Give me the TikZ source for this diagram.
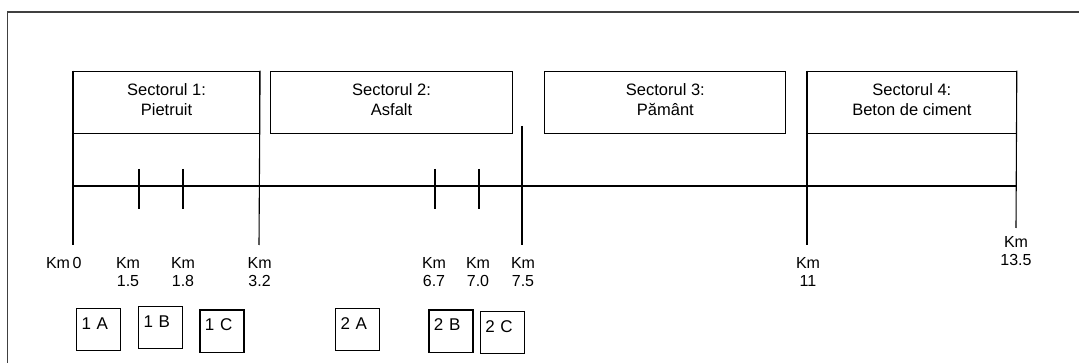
\documentclass[tikz,border=0pt]{standalone}
\usepackage{fontspec}
\setmainfont{Liberation Sans}
\usetikzlibrary{positioning}
\tikzset{
  sector/.style={draw, line width=1.1pt, anchor=north west, minimum height=62.6pt,
    inner sep=0pt, align=center, text depth=6pt, font=\fontsize{16.5}{20}\selectfont},
  kmlabel/.style={anchor=north, inner sep=0pt, align=center, font=\fontsize{16}{18}\selectfont},
  lot/.style={draw, line width=1.1pt, anchor=north west, minimum height=42pt, minimum width=44pt,
    inner xsep=5pt, inner ysep=0pt, text width=34pt, align=left, text height=20.5pt, text depth=21.5pt,
    font=\fontsize{17}{19}\selectfont},
  road/.style={line width=1.1pt},
  frame/.style={line width=1.6pt, black!75}
}
\begin{document}
\begin{tikzpicture}[x=1pt, y=-1pt]
      \useasboundingbox (0,0) rectangle (1079,363);
      \draw[frame] (7.5,363) -- (7.5,12) -- (1079,12);
      % sectoare
      \node[sector, minimum width=186pt] (s1) at (73,70.7) {Sectorul 1:\\Pietruit};
      \node[sector, minimum width=241.4pt] (s2) at (270.3,70.7) {Sectorul 2:\\Asfalt};
      \node[sector, minimum width=241pt] (s3) at (544.3,70.7) {Sectorul 3:\\Pământ};
      \node[sector, minimum width=208.7pt] (s4) at (807,70.7) {Sectorul 4:\\Beton de ciment};
      % axa drumului
      \coordinate (km0) at (73,186);
      \coordinate (km135) at (1016,186);
      \coordinate (e0) at (73,245);
      \coordinate (e32) at (259,245);
      \coordinate (t75) at (522,126);
      \coordinate (e75) at (522,245);
      \coordinate (e11) at (807,245);
      \coordinate (e135) at (1016,228);
      \coordinate (a15) at (139,169);
      \coordinate (b15) at (139,209);
      \coordinate (a18) at (183,169);
      \coordinate (b18) at (183,209);
      \coordinate (a67) at (435,169);
      \coordinate (b67) at (435,209);
      \coordinate (a70) at (479,169);
      \coordinate (b70) at (479,209);
      \begin{scope}[road]
        \draw (km0) -- (km135);
        \draw (s1.north west) -- (e0);
        \draw (s1.north east) -- (e32);
        \draw (t75) -- (e75);
        \draw (s4.north west) -- (e11);
        \draw (s4.north east) -- (e135);
        \draw (a15) -- (b15);
        \draw (a18) -- (b18);
        \draw (a67) -- (b67);
        \draw (a70) -- (b70);
      \end{scope}
      % kilometri
      \node[kmlabel] (l0) at (63.8,257.5) {Km\,0};
      \node[kmlabel] (l15) at (128,257.5) {Km\\1.5};
      \node[kmlabel] (l18) at (183,257.5) {Km\\1.8};
      \node[kmlabel] (l32) at (259.6,257.5) {Km\\3.2};
      \node[kmlabel] (l67) at (434,257.5) {Km\\6.7};
      \node[kmlabel] (l70) at (478,257.5) {Km\\7.0};
      \node[kmlabel] (l75) at (523,257.5) {Km\\7.5};
      \node[kmlabel] (l11) at (808,257.5) {Km\\11};
      \node[kmlabel] (l135) at (1016,236) {Km\\13.5};
      % loturi
      \node[lot] (1A) at (76,308) {1 A};
      \node[lot] (1B) at (138,306) {1 B};
      \node[lot] (1C) at (199.4,309.5) {1 C};
      \node[lot] (2A) at (335,308) {2 A};
      \node[lot] (2B) at (428.4,309.5) {2 B};
      \node[lot] (2C) at (479.7,311) {2 C};
    \end{tikzpicture}
\end{document}
